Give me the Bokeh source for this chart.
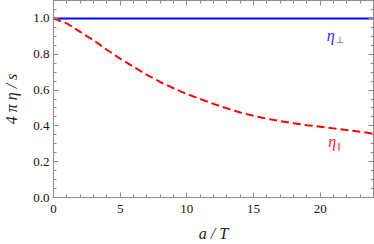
from bokeh.plotting import figure
from bokeh.models import LinearAxis, Range1d, FixedTicker, Label
from bokeh.embed import file_html
from bokeh.resources import INLINE

# data
a_over_T = [0, 1, 2, 3, 4, 5, 6, 7, 8, 9, 10, 11, 12, 13, 14, 15, 16, 17, 18, 19, 20, 21, 22, 23, 24]
eta_perp = [1.0] * 25
eta_par = [1.0, 0.972, 0.925, 0.878, 0.825, 0.775, 0.73, 0.685, 0.645, 0.61, 0.578, 0.55,
           0.523, 0.498, 0.475, 0.456, 0.44, 0.427, 0.415, 0.404, 0.395, 0.386, 0.377, 0.367, 0.357]
x_ticks = [0, 5, 10, 15, 20]
y_ticks = [0.0, 0.2, 0.4, 0.6, 0.8, 1.0]
y_tick_labels = {0.0: "0.0", 0.2: "0.2", 0.4: "0.4", 0.6: "0.6", 0.8: "0.8", 1.0: "1.0"}
label_perp_pos = (20.5, 0.905)
label_par_pos = (20.6, 0.31)

FONT = "Liberation Serif"
FRAME = "#8c8c8c"

p = figure(width=374, height=244, output_backend="svg", toolbar_location=None,
           x_range=Range1d(0, 24), y_range=Range1d(0, 1.1),
           x_axis_location=None, y_axis_location=None,
           min_border_left=49, min_border_right=1, min_border_top=0, min_border_bottom=44)
p.grid.visible = False
p.outline_line_color = FRAME
p.background_fill_color = "white"
p.border_fill_color = "white"

def make_axis(ticks, minor, show_labels, cls=LinearAxis):
    ax = cls(ticker=FixedTicker(ticks=ticks, minor_ticks=minor))
    ax.axis_line_color = FRAME
    ax.major_tick_line_color = FRAME
    ax.minor_tick_line_color = FRAME
    ax.major_tick_in = 5
    ax.major_tick_out = 0
    ax.minor_tick_in = 3
    ax.minor_tick_out = 0
    ax.major_label_text_font = FONT
    ax.major_label_text_font_size = "13px"
    ax.major_label_text_color = "#111111"
    if not show_labels:
        ax.major_label_text_font_size = "0px"
        ax.major_label_text_alpha = 0
    return ax

x_minor = list(range(0, 25))
y_minor = [i * 0.05 for i in range(0, 23)]

bottom = make_axis(x_ticks, x_minor, True)
bottom.major_label_standoff = 7
bottom.axis_label = "a / T"
bottom.axis_label_text_font = FONT
bottom.axis_label_text_font_style = "italic"
bottom.axis_label_text_font_size = "16px"
bottom.axis_label_text_color = "#222222"
bottom.axis_label_standoff = 9
p.add_layout(bottom, "below")

left = make_axis(y_ticks, y_minor, True)
left.major_label_overrides = y_tick_labels
left.major_label_standoff = 4
left.axis_label = "4 π η / s"
left.axis_label_text_font = FONT
left.axis_label_text_font_style = "italic"
left.axis_label_text_font_size = "16px"
left.axis_label_text_color = "#222222"
left.axis_label_standoff = 10
p.add_layout(left, "left")

top = make_axis(x_ticks, x_minor, False)
p.add_layout(top, "above")
right = make_axis(y_ticks, y_minor, False)
p.add_layout(right, "right")
top.major_label_standoff = 0
right.major_label_standoff = 0

p.line(a_over_T, eta_perp, line_color="#0000ff", line_width=2)
p.line(a_over_T, eta_par, line_color="#ff0000", line_width=2, line_dash="8 4")

p.add_layout(Label(x=label_perp_pos[0], y=label_perp_pos[1], text="η", text_color="#2a2aff",
                   text_font=FONT, text_font_style="italic", text_font_size="16px",
                   text_align="left", text_baseline="alphabetic"))
p.add_layout(Label(x=label_perp_pos[0], y=label_perp_pos[1], x_offset=9, y_offset=-5, text="⊥",
                   text_color="#2a2aff", text_font=FONT, text_font_size="9px",
                   text_align="left", text_baseline="alphabetic"))
p.add_layout(Label(x=label_par_pos[0], y=label_par_pos[1], text="η", text_color="#ff2a2a",
                   text_font=FONT, text_font_style="italic", text_font_size="16px",
                   text_align="left", text_baseline="alphabetic"))
p.add_layout(Label(x=label_par_pos[0], y=label_par_pos[1], x_offset=9, y_offset=-5, text="∥",
                   text_color="#ff2a2a", text_font=FONT, text_font_size="8px",
                   text_align="left", text_baseline="alphabetic"))

open("out.html", "w").write(file_html(p, INLINE))
